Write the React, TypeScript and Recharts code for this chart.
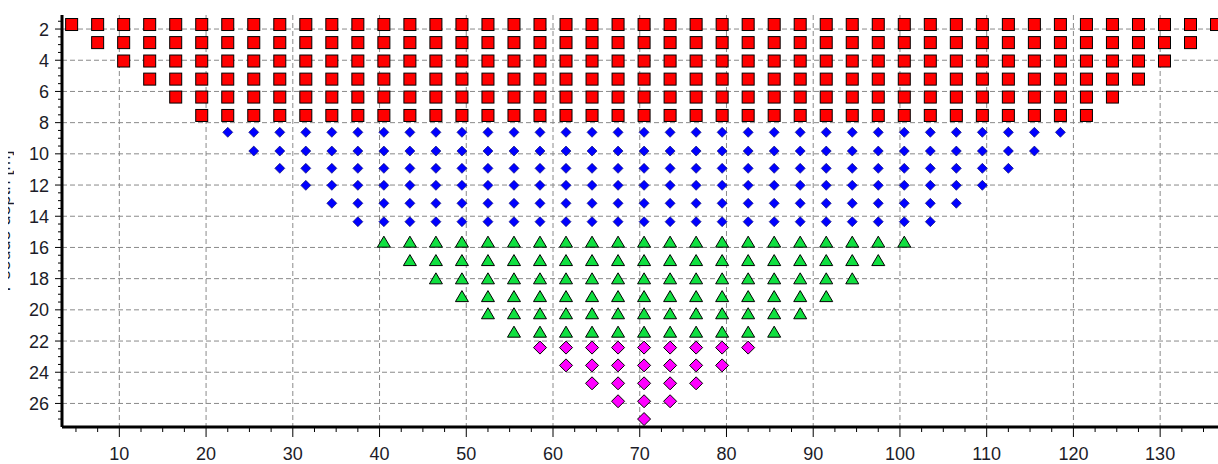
import React from 'react';
import { CartesianGrid, Scatter, ScatterChart, XAxis, YAxis } from 'recharts';

// midpoints of the measurement stations along the line [m]
const stations = [
  4.5, 7.5, 10.5, 13.5, 16.5, 19.5, 22.5, 25.5, 28.5, 31.5, 34.5, 37.5, 40.5, 43.5, 46.5,
  49.5, 52.5, 55.5, 58.5, 61.5, 64.5, 67.5, 70.5, 73.5, 76.5, 79.5, 82.5, 85.5, 88.5, 91.5,
  94.5, 97.5, 100.5, 103.5, 106.5, 109.5, 112.5, 115.5, 118.5, 121.5, 124.5, 127.5, 130.5,
  133.5, 136.5,
];

// pseudo depth of every level, per group (level k drops k stations at each end)
const redDepths = [1.71, 2.87, 4.05, 5.21, 6.36, 7.54];
const blueDepths = [8.62, 9.82, 10.93, 12.02, 13.17, 14.35];
const greenDepths = [15.63, 16.81, 17.98, 19.12, 20.22, 21.4];
const magentaDepths = [22.42, 23.56, 24.71, 25.86, 27.0];

const xMajor = [10, 20, 30, 40, 50, 60, 70, 80, 90, 100, 110, 120, 130];
const yMajor = [2, 4, 6, 8, 10, 12, 14, 16, 18, 20, 22, 24, 26];
const xTicks = Array.from({ length: 53 }, (_, i) => 5 + i * 2.5);
const yTicks = Array.from({ length: 52 }, (_, i) => 1.5 + i * 0.5);

const X_DOMAIN: [number, number] = [3.39, 136.67];
const Y_DOMAIN: [number, number] = [1.1, 27.51];

const levels = (depths: number[], first: number) =>
  depths.flatMap((d, i) =>
    stations.slice(first + i, stations.length - first - i).map((x) => ({ x, y: d }))
  );

const redData = levels(redDepths, 0);
const blueData = levels(blueDepths, 6);
const greenData = levels(greenDepths, 12);
const magentaData = levels(magentaDepths, 18);

const labelFont = { fontFamily: '"Liberation Sans", Arial, sans-serif', fontSize: 18, fill: '#1c1c28' };

const XTick = (props: any) => {
  const { x, y, payload } = props;
  const v = payload.value;
  const major = Math.abs(v % 10) < 1e-6;
  return (
    <g>
      <line x1={x} x2={x} y1={y} y2={y + (major ? 10 : 5)} stroke="#000" strokeWidth={1} />
      {major && (
        <text x={x} y={y + 33} textAnchor="middle" {...labelFont}>
          {v}
        </text>
      )}
    </g>
  );
};

const YTick = (props: any) => {
  const { x, y, payload } = props;
  const v = payload.value;
  const major = Math.abs(v % 2) < 1e-6;
  return (
    <g>
      <line x1={x} x2={x - (major ? 7 : 4)} y1={y} y2={y} stroke="#000" strokeWidth={1} />
      {major && (
        <text x={x - 13} y={y + 6.5} textAnchor="end" {...labelFont}>
          {v}
        </text>
      )}
    </g>
  );
};

const Square = ({ cx, cy }: any) => (
  <rect x={cx - 6} y={cy - 6} width={12} height={12} fill="#ff0000" stroke="#000" strokeWidth={1} />
);

const SmallDiamond = ({ cx, cy }: any) => (
  <polygon
    points={`${cx},${cy - 5} ${cx + 5},${cy} ${cx},${cy + 5} ${cx - 5},${cy}`}
    fill="#0000ff"
    stroke="#000060"
    strokeWidth={0.6}
  />
);

const Triangle = ({ cx, cy }: any) => (
  <polygon
    points={`${cx},${cy - 5.5} ${cx + 6.5},${cy + 5.5} ${cx - 6.5},${cy + 5.5}`}
    fill="#10e040"
    stroke="#000"
    strokeWidth={1}
  />
);

const Diamond = ({ cx, cy }: any) => (
  <polygon
    points={`${cx},${cy - 6.5} ${cx + 6.5},${cy} ${cx},${cy + 6.5} ${cx - 6.5},${cy}`}
    fill="#ff00ff"
    stroke="#000"
    strokeWidth={1}
  />
);

export default function App() {
  return (
    <div style={{ position: 'fixed', left: 0, top: 0, width: 1218, height: 464, overflow: 'hidden', background: '#fff' }}>
      <ScatterChart width={1218} height={464} margin={{ top: 15, right: 0, bottom: 0, left: 0 }}>
        <CartesianGrid
          verticalValues={xMajor}
          horizontalValues={yMajor}
          stroke="#8a8a8a"
          strokeDasharray="5 3"
          strokeWidth={1}
        />
        <XAxis
          type="number"
          dataKey="x"
          domain={X_DOMAIN}
          allowDataOverflow
          ticks={xTicks}
          interval={0}
          height={37}
          tickSize={0}
          tickMargin={0}
          tickLine={false}
          tick={<XTick />}
          axisLine={{ stroke: '#000', strokeWidth: 3 }}
        />
        <XAxis
          xAxisId="top"
          orientation="top"
          type="number"
          domain={X_DOMAIN}
          allowDataOverflow
          height={0}
          tick={false}
          tickLine={false}
          axisLine={{ stroke: '#000', strokeWidth: 2 }}
        />
        <YAxis
          type="number"
          dataKey="y"
          domain={Y_DOMAIN}
          reversed
          allowDataOverflow
          ticks={yTicks}
          interval={0}
          width={62}
          tickSize={0}
          tickMargin={0}
          tickLine={false}
          tick={<YTick />}
          axisLine={{ stroke: '#000', strokeWidth: 3 }}
        />
        <Scatter data={redData} shape={Square} isAnimationActive={false} />
        <Scatter data={blueData} shape={SmallDiamond} isAnimationActive={false} />
        <Scatter data={greenData} shape={Triangle} isAnimationActive={false} />
        <Scatter data={magentaData} shape={Diamond} isAnimationActive={false} />
      </ScatterChart>
      {/* axis title, clipped at the left edge as in the source */}
      <svg style={{ position: 'absolute', left: 8, top: 0 }} width={6} height={464}>
        <text transform="translate(2,221) rotate(-90)" textAnchor="middle" {...labelFont}>
          Pseudo depth [m]
        </text>
      </svg>
    </div>
  );
}
